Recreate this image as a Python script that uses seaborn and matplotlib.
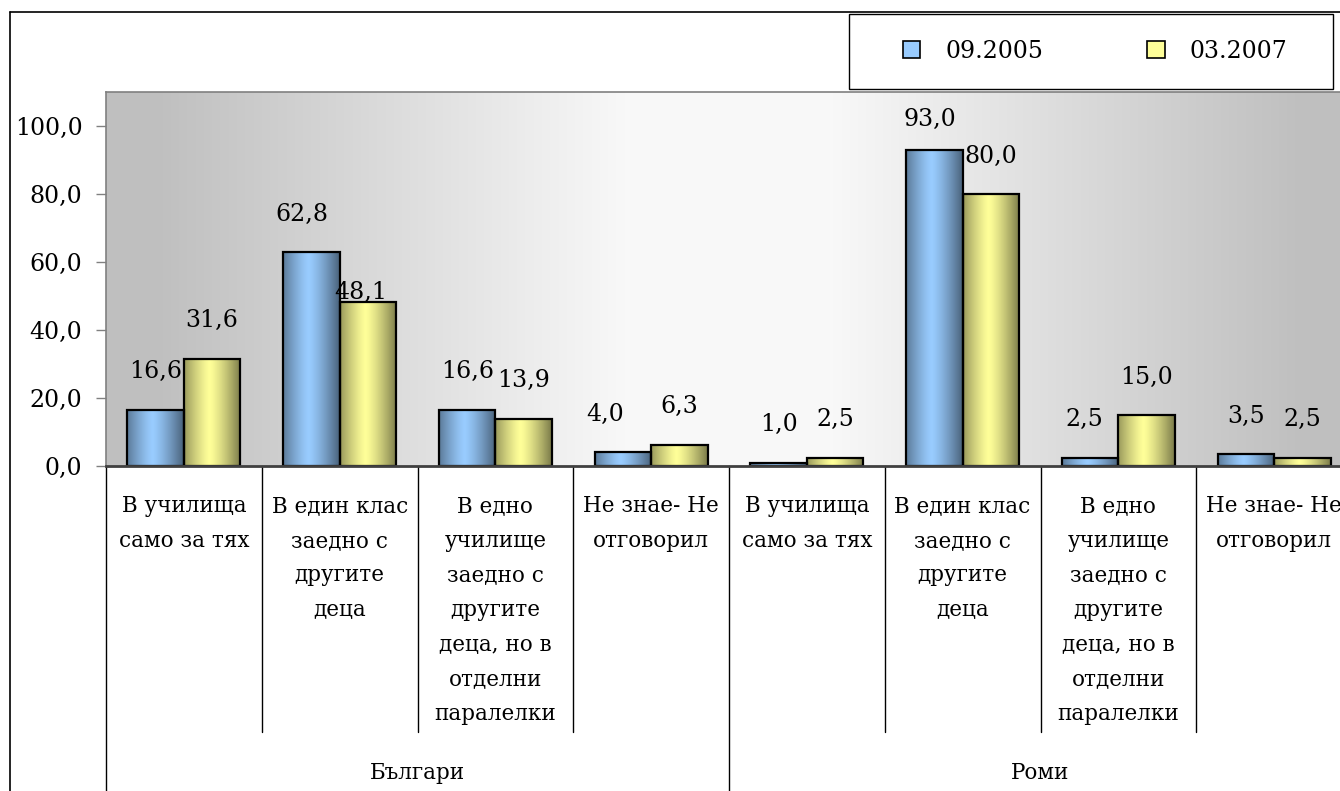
import numpy as np
import pandas as pd
import seaborn as sns
import matplotlib.pyplot as plt
from matplotlib.patches import Patch, Rectangle
from matplotlib.lines import Line2D
from matplotlib.transforms import blended_transform_factory

# data
groups = ['Българи', 'Роми']
answers = [
    'В училища\nсамо за тях',
    'В един клас\nзаедно с\nдругите\nдеца',
    'В едно\nучилище\nзаедно с\nдругите\nдеца, но в\nотделни\nпаралелки',
    'Не знае- Не\nотговорил',
]
periods = ['09.2005', '03.2007']
vals_2005 = [16.6, 62.8, 16.6, 4.0, 1.0, 93.0, 2.5, 3.5]
vals_2007 = [31.6, 48.1, 13.9, 6.3, 2.5, 80.0, 15.0, 2.5]
colors = ['#99CCFF', '#FFFF99']

keys = [f'{g}|{a}' for g in groups for a in answers]
df = pd.DataFrame({
    'key': keys * 2,
    'period': [periods[0]] * 8 + [periods[1]] * 8,
    'value': vals_2005 + vals_2007,
})

sns.set_style('white')
plt.rcParams['font.family'] = ['DejaVu Serif']
plt.rcParams['text.color'] = 'black'

W, H = 1340, 791
fig = plt.figure(figsize=(W / 100, H / 100), dpi=100)
ax = fig.add_axes([106 / W, (H - 466) / H, (1352 - 106) / W, (466 - 92) / H])

# plot area background: gray at the sides, white in the middle
t = np.linspace(0, 1, 600)
v = np.clip((0.5 - np.abs(t - 0.5) - 0.04) / 0.38, 0, 1)
shade = 0.75 + (0.975 - 0.75) * v
bg = np.dstack([shade, shade, shade])
ax.imshow(bg, extent=[0, 1, 0, 1], transform=ax.transAxes, aspect='auto', zorder=0)

sns.barplot(data=df, x='key', y='value', hue='period', order=keys, hue_order=periods,
            palette=colors, width=0.725, saturation=1, edgecolor='black',
            linewidth=1.6, legend=False, ax=ax, zorder=3)

# cylinder-like shading on every bar
tb = np.linspace(0, 1, 100)
f = 1 - (np.abs(tb - 0.45) / 0.55) ** 1.3
for cont, col in zip(ax.containers, colors):
    light = np.array(sns.color_palette([col])[0])
    dark = light * 0.48
    grad = dark[None, :] + (light - dark)[None, :] * f[:, None]
    for p in cont.patches:
        x0, w, h = p.get_x(), p.get_width(), p.get_height()
        ax.imshow(grad[None, :, :], extent=[x0, x0 + w, 0, h], aspect='auto', zorder=2)
        p.set_facecolor('none')

ax.set_xlim(-0.5, 7.5)
ax.set_ylim(0, 110)

# data labels (pixel tweaks for a few labels that Excel pushed aside)
tweak = {(0, 1): (-10, 0), (1, 1): (-7, -28), (0, 5): (-5, -8), (0, 3): (-18, 0), (0, 6): (-6, 0)}
for si, cont in enumerate(ax.containers):
    for ci, p in enumerate(cont.patches):
        h = p.get_height()
        dx, dy = tweak.get((si, ci), (0, 0))
        ax.annotate(f'{h:.1f}'.replace('.', ','), (p.get_x() + p.get_width() / 2, h),
                    xytext=(dx, 38 + dy), textcoords='offset pixels',
                    ha='center', va='center', fontsize=17, color='black', zorder=5)

# axes styling
ax.set_yticks(range(0, 101, 20))
ax.set_yticklabels([f'{y:.1f}'.replace('.', ',') for y in range(0, 101, 20)], fontsize=17)
ax.tick_params(axis='y', direction='out', length=7, width=1, color='#808080',
               labelcolor='black', pad=10, left=True)
ax.set_xticks([])
ax.set_xlabel('')
ax.set_ylabel('')
for s in ['left', 'top']:
    ax.spines[s].set_color('#808080')
    ax.spines[s].set_linewidth(1.2)
ax.spines['right'].set_visible(False)
ax.spines['bottom'].set_color('#404040')
ax.spines['bottom'].set_linewidth(2)
ax.spines['bottom'].set_zorder(4)

# multi-level category axis below the plot
tr = blended_transform_factory(ax.transData, ax.transAxes)
def ay(ypx):
    return (466 - ypx) / 374

for i, key in enumerate(keys):
    lines = key.split('|')[1].split('\n')
    for j, line in enumerate(lines):
        ax.text(i, ay(506 + 34.7 * j), line, transform=tr, ha='center', va='center',
                fontsize=15.5, clip_on=False)
for k in [0.5, 1.5, 2.5, 4.5, 5.5, 6.5]:
    ax.add_line(Line2D([k, k], [ay(466), ay(732)], transform=tr, color='black', lw=1, clip_on=False))
for k in [-0.5, 3.5, 7.5]:
    ax.add_line(Line2D([k, k], [ay(466), ay(800)], transform=tr, color='black', lw=1, clip_on=False))
for gi, g in enumerate(groups):
    ax.text(1.5 + 4 * gi, ay(773), g, transform=tr, ha='center', va='center',
            fontsize=15.5, clip_on=False)

# outer chart frame (cut by the image edges)
fig.add_artist(Line2D([10 / W, 10 / W], [0, 1 - 12 / H], transform=fig.transFigure, color='black', lw=1.2))
fig.add_artist(Line2D([10 / W, 1], [1 - 12 / H, 1 - 12 / H], transform=fig.transFigure, color='black', lw=1.2))

# legend
fig.add_artist(Rectangle((849 / W, 1 - 89 / H), (1333 - 849) / W, (89 - 14) / H,
                         transform=fig.transFigure, facecolor='white', edgecolor='black', lw=1))
handles = [Patch(facecolor=c, edgecolor='black', lw=1.2) for c in colors]
fig.legend(handles, periods, loc='center', bbox_to_anchor=(1095 / W, 1 - 51 / H), ncol=2,
           frameon=False, fontsize=17, handlelength=0.75, handleheight=0.75,
           handletextpad=1.05, columnspacing=4.4, labelcolor='black')

fig.savefig('out.png', dpi=100)
